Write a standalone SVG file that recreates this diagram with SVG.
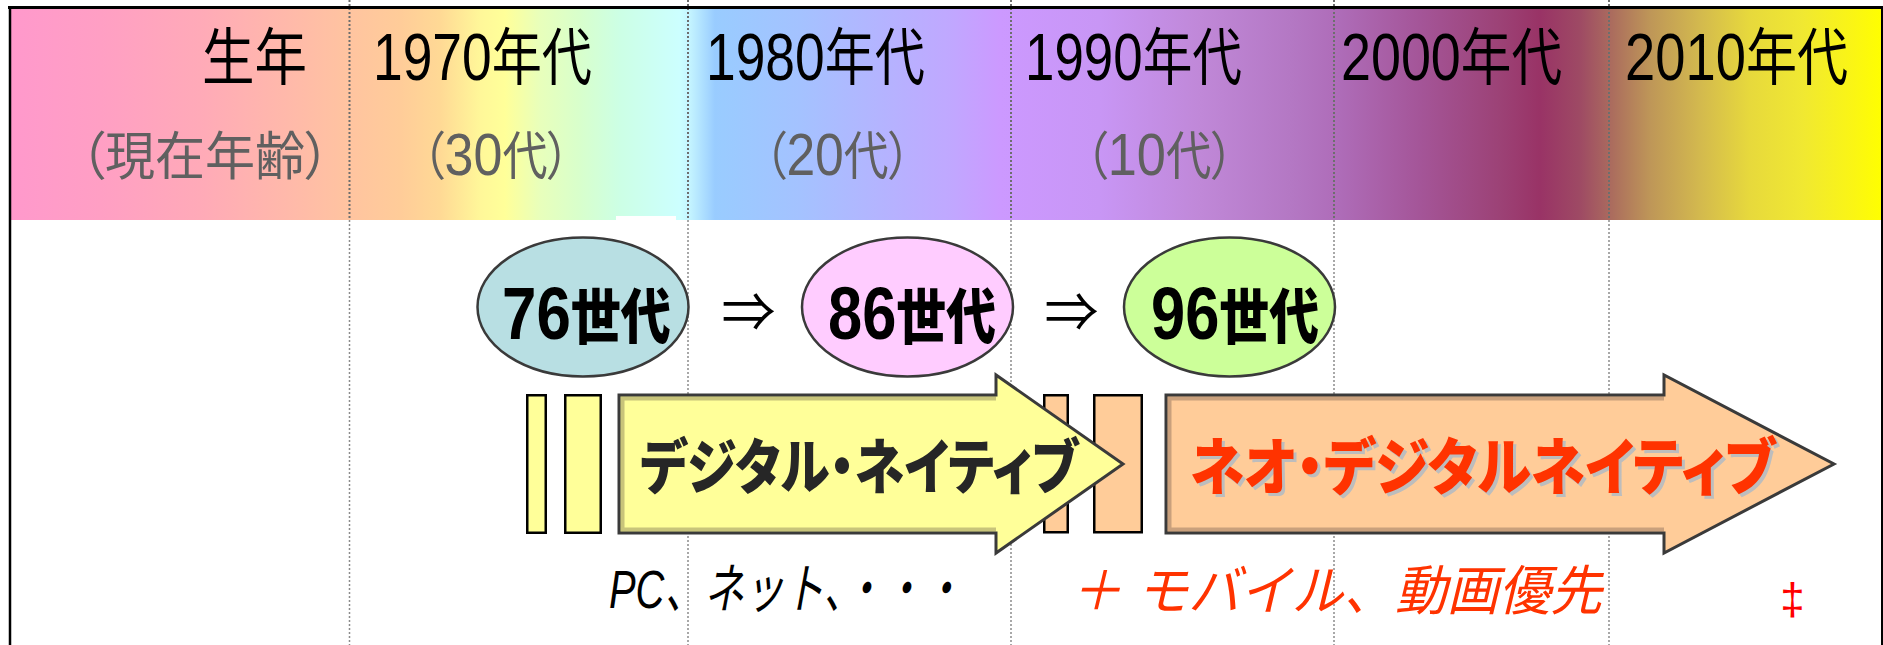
<svg xmlns="http://www.w3.org/2000/svg" width="1883" height="645" viewBox="0 0 1883 645">
<defs>
<linearGradient id="hdrGrad" gradientUnits="userSpaceOnUse" x1="11" y1="0" x2="1882" y2="0">
<stop offset="0" stop-color="#FF99CC"/>
<stop offset="0.0476" stop-color="#FF9FC4"/>
<stop offset="0.1010" stop-color="#FFAAB8"/>
<stop offset="0.1545" stop-color="#FFBBA8"/>
<stop offset="0.1807" stop-color="#FFC4A0"/>
<stop offset="0.2079" stop-color="#FFCC99"/>
<stop offset="0.2293" stop-color="#FFD995"/>
<stop offset="0.2507" stop-color="#FFF799"/>
<stop offset="0.2640" stop-color="#FFFF99"/>
<stop offset="0.2827" stop-color="#E8FFBB"/>
<stop offset="0.3041" stop-color="#D8FFCC"/>
<stop offset="0.3255" stop-color="#CCFFE5"/>
<stop offset="0.3575" stop-color="#CCFFFF"/>
<stop offset="0.3628" stop-color="#C4F4FF"/>
<stop offset="0.3762" stop-color="#99CCFF"/>
<stop offset="0.4217" stop-color="#A4C2FF"/>
<stop offset="0.4644" stop-color="#B4B4FF"/>
<stop offset="0.5018" stop-color="#C0A8FF"/>
<stop offset="0.5286" stop-color="#CC99FF"/>
<stop offset="0.5820" stop-color="#C896F5"/>
<stop offset="0.6355" stop-color="#C088D8"/>
<stop offset="0.6836" stop-color="#B478C4"/>
<stop offset="0.7103" stop-color="#AE6CB8"/>
<stop offset="0.7531" stop-color="#A45598"/>
<stop offset="0.7958" stop-color="#9C4276"/>
<stop offset="0.8172" stop-color="#993366"/>
<stop offset="0.8386" stop-color="#9E4A64"/>
<stop offset="0.8546" stop-color="#AA6A5E"/>
<stop offset="0.8760" stop-color="#BE9658"/>
<stop offset="0.9027" stop-color="#D3B94E"/>
<stop offset="0.9294" stop-color="#E7D93C"/>
<stop offset="0.9572" stop-color="#F0E832"/>
<stop offset="0.9840" stop-color="#FAF515"/>
<stop offset="1" stop-color="#FFFF00"/>
</linearGradient>
</defs>
<style>
.hdr { font-family: "Liberation Sans","Noto Sans CJK JP",sans-serif; fill:#000; font-size:62px; }
.hdr .d { font-size:66px; }
.age { font-family: "Liberation Sans","Noto Sans CJK JP",sans-serif; fill:#606060; font-size:52px; font-feature-settings:"palt"; }
.age .d { font-size:60px; }
.gen { font-family: "Liberation Sans","Noto Sans CJK JP",sans-serif; font-weight:900; fill:#000; font-size:60px; }
.gen .d { font-size:74px; font-weight:bold; }
.ell { stroke:#3A3A3A; stroke-width:2.5; }
.dotH { stroke:#6E6E6E; stroke-width:2; stroke-dasharray:2 2; }
.dotB { stroke:#8C8C8C; stroke-width:1.5; stroke-dasharray:2 2; }
.bar { stroke:#000; stroke-width:2.5; }
.yel { fill:#FFFF99; }
.org { fill:#FFCC99; }
.outline { fill:none; stroke:#3A3A3A; stroke-width:3; stroke-linejoin:miter; }
.band { fill:none; stroke-width:4; }
.arrTxt { font-family:"Noto Sans CJK JP",sans-serif; font-weight:900; font-feature-settings:"palt"; }
.note { font-family:"Liberation Sans","Noto Sans CJK JP",sans-serif; font-style:italic; font-size:54px; }
.sym { font-family:"Noto Sans CJK JP",sans-serif; font-size:54px; fill:#000; }
</style>
<rect x="0" y="0" width="1883" height="645" fill="#FFFFFF"/>
<g id="header">
<rect x="11" y="8.5" width="1872" height="211.5" fill="url(#hdrGrad)"/>
<rect x="616" y="216" width="60" height="5" fill="#FFFFFF"/>
</g>
<g id="gridlines">
<line class="dotH" x1="349.5" y1="0" x2="349.5" y2="220"/>
<line class="dotH" x1="688" y1="0" x2="688" y2="220"/>
<line class="dotH" x1="1011" y1="0" x2="1011" y2="220"/>
<line class="dotH" x1="1334" y1="0" x2="1334" y2="220"/>
<line class="dotH" x1="1609" y1="0" x2="1609" y2="220"/>
<line class="dotB" x1="349.5" y1="220" x2="349.5" y2="645"/>
<line class="dotB" x1="688" y1="220" x2="688" y2="645"/>
<line class="dotB" x1="1011" y1="220" x2="1011" y2="645"/>
<line class="dotB" x1="1334" y1="220" x2="1334" y2="645"/>
<line class="dotB" x1="1609" y1="220" x2="1609" y2="645"/>
</g>
<g id="frame" stroke="#000" fill="none">
<line x1="8" y1="7.5" x2="1883" y2="7.5" stroke-width="3"/>
<line x1="10" y1="6" x2="10" y2="645" stroke-width="2.5"/>
<line x1="1882" y1="6" x2="1882" y2="645" stroke-width="2"/>
</g>
<g id="header-labels">
<text class="hdr" x="202" y="80" textLength="105" lengthAdjust="spacingAndGlyphs">生年</text>
<text class="hdr" x="373" y="80" textLength="219" lengthAdjust="spacingAndGlyphs"><tspan class="d">1970</tspan>年代</text>
<text class="hdr" x="706" y="80" textLength="219" lengthAdjust="spacingAndGlyphs"><tspan class="d">1980</tspan>年代</text>
<text class="hdr" x="1025" y="80" textLength="217" lengthAdjust="spacingAndGlyphs"><tspan class="d">1990</tspan>年代</text>
<text class="hdr" x="1341" y="80" textLength="221" lengthAdjust="spacingAndGlyphs"><tspan class="d">2000</tspan>年代</text>
<text class="hdr" x="1625" y="80" textLength="223" lengthAdjust="spacingAndGlyphs"><tspan class="d">2010</tspan>年代</text>
<text class="age" x="80" y="175" textLength="250" lengthAdjust="spacingAndGlyphs">（現在年齢）</text>
<text class="age" x="422" y="175" textLength="148" lengthAdjust="spacingAndGlyphs">（<tspan class="d">30</tspan>代）</text>
<text class="age" x="764" y="175" textLength="147" lengthAdjust="spacingAndGlyphs">（<tspan class="d">20</tspan>代）</text>
<text class="age" x="1085" y="175" textLength="149" lengthAdjust="spacingAndGlyphs">（<tspan class="d">10</tspan>代）</text>
</g>
<g id="node-76">
<ellipse class="ell" cx="583" cy="307" rx="105.5" ry="69.5" fill="#B8DFE3"/>
<text class="gen" x="502" y="339" textLength="169" lengthAdjust="spacingAndGlyphs"><tspan class="d">76</tspan>世代</text>
</g>
<g id="node-86">
<ellipse class="ell" cx="907.5" cy="307" rx="105.5" ry="69.5" fill="#FFCCFF"/>
<text class="gen" x="828" y="339" textLength="168" lengthAdjust="spacingAndGlyphs"><tspan class="d">86</tspan>世代</text>
</g>
<g id="node-96">
<ellipse class="ell" cx="1229.5" cy="307" rx="105.5" ry="69.5" fill="#CCFF99"/>
<text class="gen" x="1151" y="339" textLength="168" lengthAdjust="spacingAndGlyphs"><tspan class="d">96</tspan>世代</text>
</g>
<g id="connectors">
<text class="sym" x="748.5" y="332" text-anchor="middle">⇒</text>
<text class="sym" x="1071.5" y="332" text-anchor="middle">⇒</text>
</g>
<g id="bars-yellow">
<rect class="bar yel" x="527.25" y="395.25" width="18.5" height="137.5"/>
<rect class="bar yel" x="565.25" y="395.25" width="35.5" height="137.5"/>
</g>
<g id="bars-orange">
<rect class="bar org" x="1044.25" y="395.25" width="23.5" height="137"/>
<rect class="bar org" x="1094.25" y="395.25" width="47.5" height="137"/>
</g>
<g id="arrow-digital-native">
<path d="M619,395 H996 V375 L1123,464 L996,553 V533 H619 Z" fill="#FFFF99"/>
<path class="band" d="M996,398.5 H622.5 V529.5 H996" stroke="#C8C47A"/>
<path class="outline" d="M619,395 H996 V375 L1123,464 L996,553 V533 H619 Z"/>
<text class="arrTxt" x="640" y="489" font-size="60" fill="#262626" textLength="438" lengthAdjust="spacingAndGlyphs">デジタル・ネイティブ</text>
</g>
<g id="arrow-neo-digital-native">
<path d="M1166,395 H1664 V375 L1834,464 L1664,553 V533 H1166 Z" fill="#FFCC99"/>
<path class="band" d="M1664,398.5 H1169.5 V529.5 H1664" stroke="#C9A07C"/>
<path class="outline" d="M1166,395 H1664 V375 L1834,464 L1664,553 V533 H1166 Z"/>
<text class="arrTxt" x="1193" y="493" font-size="62" fill="#BDBDBD" textLength="585" lengthAdjust="spacingAndGlyphs">ネオ・デジタルネイティブ</text>
<text class="arrTxt" x="1190" y="490" font-size="62" fill="#FF3300" textLength="585" lengthAdjust="spacingAndGlyphs">ネオ・デジタルネイティブ</text>
</g>
<g id="notes">
<text class="note" x="609" y="608" fill="#000" textLength="354" lengthAdjust="spacingAndGlyphs">PC、ネット、・・・</text>
<text class="note" x="1070" y="610" fill="#FF3300" font-size="56" textLength="532" lengthAdjust="spacingAndGlyphs">＋ モバイル、動画優先</text>
<text x="1792.5" y="614" text-anchor="middle" font-family="Liberation Sans, sans-serif" font-size="44" fill="#FF0000">‡</text>
</g>
</svg>
